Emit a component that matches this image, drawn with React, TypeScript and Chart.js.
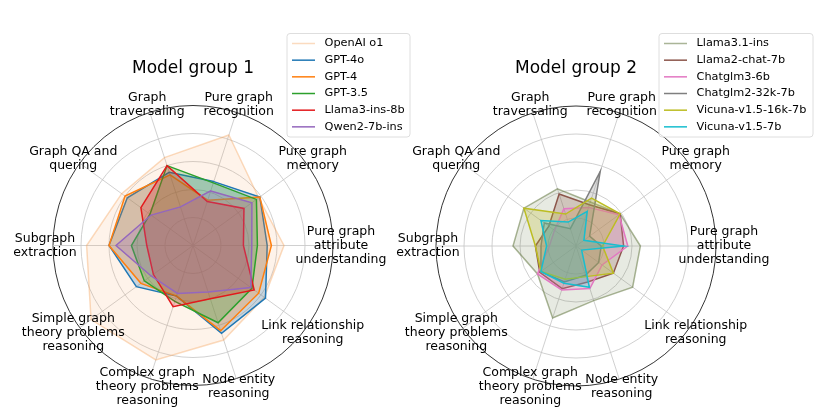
import React, { useEffect, useRef } from "react";
import { Chart, registerables } from "chart.js";

Chart.register(...registerables);

// ---------- data ----------
const categories: string[][] = [
  ["Pure graph", "recognition"],
  ["Pure graph", "memory"],
  ["Pure graph", "attribute", "understanding"],
  ["Link relationship", "reasoning"],
  ["Node entity", "reasoning"],
  ["Complex graph", "theory problems", "reasoning"],
  ["Simple graph", "theory problems", "reasoning"],
  ["Subgraph", "extraction"],
  ["Graph QA and", "quering"],
  ["Graph", "traversaling"],
];

const group1Title = "Model group 1";
const group2Title = "Model group 2";

const group1Names = ["OpenAI o1", "GPT-4o", "GPT-4", "GPT-3.5", "Llama3-ins-8b", "Qwen2-7b-ins"];
const openaiO1 = [83, 58, 65, 63, 71, 86, 90, 76, 63, 66];
const gpt4o = [48, 59, 53, 64, 66, 38, 50, 60, 58, 55];
const gpt4 = [34, 59, 56, 58, 64, 38, 46, 60, 60, 53];
const gpt35 = [47, 56, 46, 52, 58, 42, 43, 44, 38, 60];
const llama3Ins8b = [33, 45, 36, 54, 40, 46, 35, 33, 46, 60];
const qwen27bIns = [41, 52, 42, 51, 35, 36, 37, 55, 37, 29];

const group2Names = ["Llama3.1-ins", "Llama2-chat-7b", "Chatglm3-6b", "Chatglm2-32k-7b", "Vicuna-v1.5-16k-7b", "Vicuna-v1.5-7b"];
const llama31Ins = [33, 39, 46, 50, 41, 54, 34, 45, 46, 43];
const llama2Chat7b = [31, 39, 34, 33, 27, 32, 32, 29, 24, 39];
const chatglm36b = [29, 38, 37, 23, 32, 33, 34, 19, 19, 28];
const chatglm232k7b = [56, 12, 18, 20, 22, 27, 31, 25, 28, 13];
const vicuna16k7b = [36, 39, 19, 33, 23, 25, 31, 29, 46, 24];
const vicuna7b = [26, 7, 34, 5, 31, 28, 31, 21, 31, 18];

const axisMax = 100;
const axisStep = 20;

// ---------- styles ----------
const FONT = '"DejaVu Sans", sans-serif';
const group1Lines = ["rgba(244,164,96,0.4)", "#1f77b4", "#ff7f0e", "#2ca02c", "#e3191c", "#9467bd"];
const group1Fills = ["rgba(244,164,96,0.13)", "rgba(31,119,180,0.25)", "rgba(255,127,14,0.25)", "rgba(44,160,44,0.25)", "rgba(227,25,28,0.25)", "rgba(148,103,189,0.25)"];
const group2Lines = ["rgba(85,107,47,0.5)", "#8c564b", "#e377c2", "#7f7f7f", "#bcbd22", "#17becf"];
const group2Fills = ["rgba(85,107,47,0.14)", "rgba(140,86,75,0.25)", "rgba(227,119,194,0.25)", "rgba(127,127,127,0.25)", "rgba(188,189,34,0.25)", "rgba(23,190,207,0.25)"];

type Box = { x: number; y: number; w: number; h: number };

function makePlugin(title: string, names: string[], colors: string[], box: Box) {
  return {
    id: "decor",
    afterDraw(chart: any) {
      const ctx = chart.ctx as CanvasRenderingContext2D;
      const s = chart.scales.r;
      ctx.save();
      // point labels
      ctx.fillStyle = "#000";
      ctx.textAlign = "center";
      ctx.textBaseline = "middle";
      ctx.font = `12.5px ${FONT}`;
      const lh = 14;
      categories.forEach((lines, i) => {
        const p = s.getPointPosition(i, 148);
        lines.forEach((ln, j) => {
          ctx.fillText(ln, p.x, p.y + (j - (lines.length - 1) / 2) * lh);
        });
      });
      // title
      ctx.font = `17px ${FONT}`;
      ctx.fillText(title, s.xCenter, 69);
      // legend
      ctx.beginPath();
      const r = 3;
      const { x, y, w, h } = box;
      ctx.moveTo(x + r, y);
      ctx.lineTo(x + w - r, y);
      ctx.quadraticCurveTo(x + w, y, x + w, y + r);
      ctx.lineTo(x + w, y + h - r);
      ctx.quadraticCurveTo(x + w, y + h, x + w - r, y + h);
      ctx.lineTo(x + r, y + h);
      ctx.quadraticCurveTo(x, y + h, x, y + h - r);
      ctx.lineTo(x, y + r);
      ctx.quadraticCurveTo(x, y, x + r, y);
      ctx.closePath();
      ctx.fillStyle = "rgba(255,255,255,0.8)";
      ctx.fill();
      ctx.strokeStyle = "#d6d6d6";
      ctx.lineWidth = 0.8;
      ctx.stroke();
      ctx.font = `11.3px ${FONT}`;
      ctx.textAlign = "left";
      names.forEach((nm, i) => {
        const yy = y + 10 + i * 16.67;
        ctx.beginPath();
        ctx.moveTo(x + 5, yy);
        ctx.lineTo(x + 28, yy);
        ctx.strokeStyle = colors[i];
        ctx.lineWidth = 1.5;
        ctx.stroke();
        ctx.fillStyle = "#000";
        ctx.fillText(nm, x + 37.5, yy);
      });
      ctx.restore();
    },
  };
}

function makeConfig(
  title: string,
  names: string[],
  series: number[][],
  lines: string[],
  fills: string[],
  cx: number,
  cy: number,
  box: Box
): any {
  const labels = categories.map((c) => c.join(" "));
  return {
    type: "radar",
    data: {
      labels,
      datasets: series.map((vals, i) => ({
        label: names[i],
        data: vals,
        borderColor: lines[i],
        backgroundColor: fills[i],
        borderWidth: 1.5,
        fill: true,
        pointRadius: 0,
        pointHoverRadius: 0,
        tension: 0,
        order: -i,
      })),
    },
    options: {
      responsive: false,
      animation: false,
      events: [],
      layout: { padding: 0 },
      plugins: { legend: { display: false }, tooltip: { enabled: false }, title: { display: false } },
      scales: {
        r: {
          min: 0,
          max: axisMax,
          startAngle: 18,
          ticks: { display: false, stepSize: axisStep },
          pointLabels: { display: false },
          grid: {
            circular: true,
            color: (c: any) => (c.tick && c.tick.value === axisMax ? "#000000" : "#c4c4c4"),
            lineWidth: 0.8,
          },
          angleLines: { color: "#c4c4c4", lineWidth: 0.8 },
          afterFit: (s: any) => {
            s.xCenter = cx;
            s.yCenter = cy;
            s.drawingArea = 140;
          },
        },
      },
    },
    plugins: [makePlugin(title, names, lines, box)],
  };
}

export default function App() {
  const leftRef = useRef<HTMLCanvasElement>(null);
  const rightRef = useRef<HTMLCanvasElement>(null);

  useEffect(() => {
    const c1 = new Chart(
      leftRef.current as HTMLCanvasElement,
      makeConfig(
        group1Title,
        group1Names,
        [openaiO1, gpt4o, gpt4, gpt35, llama3Ins8b, qwen27bIns],
        group1Lines,
        group1Fills,
        193,
        245.5,
        { x: 287, y: 33.5, w: 123, h: 103.5 }
      )
    );
    const c2 = new Chart(
      rightRef.current as HTMLCanvasElement,
      makeConfig(
        group2Title,
        group2Names,
        [llama31Ins, llama2Chat7b, chatglm36b, chatglm232k7b, vicuna16k7b, vicuna7b],
        group2Lines,
        group2Fills,
        576,
        246,
        { x: 659, y: 33.5, w: 154, h: 103.5 }
      )
    );
    return () => {
      c1.destroy();
      c2.destroy();
    };
  }, []);

  const st: React.CSSProperties = { position: "absolute", left: 0, top: 0, width: 830, height: 415 };
  return (
    <div style={{ position: "absolute", left: 0, top: 0, width: 830, height: 415, background: "#fff" }}>
      <canvas ref={leftRef} width={830} height={415} style={st} />
      <canvas ref={rightRef} width={830} height={415} style={st} />
    </div>
  );
}
